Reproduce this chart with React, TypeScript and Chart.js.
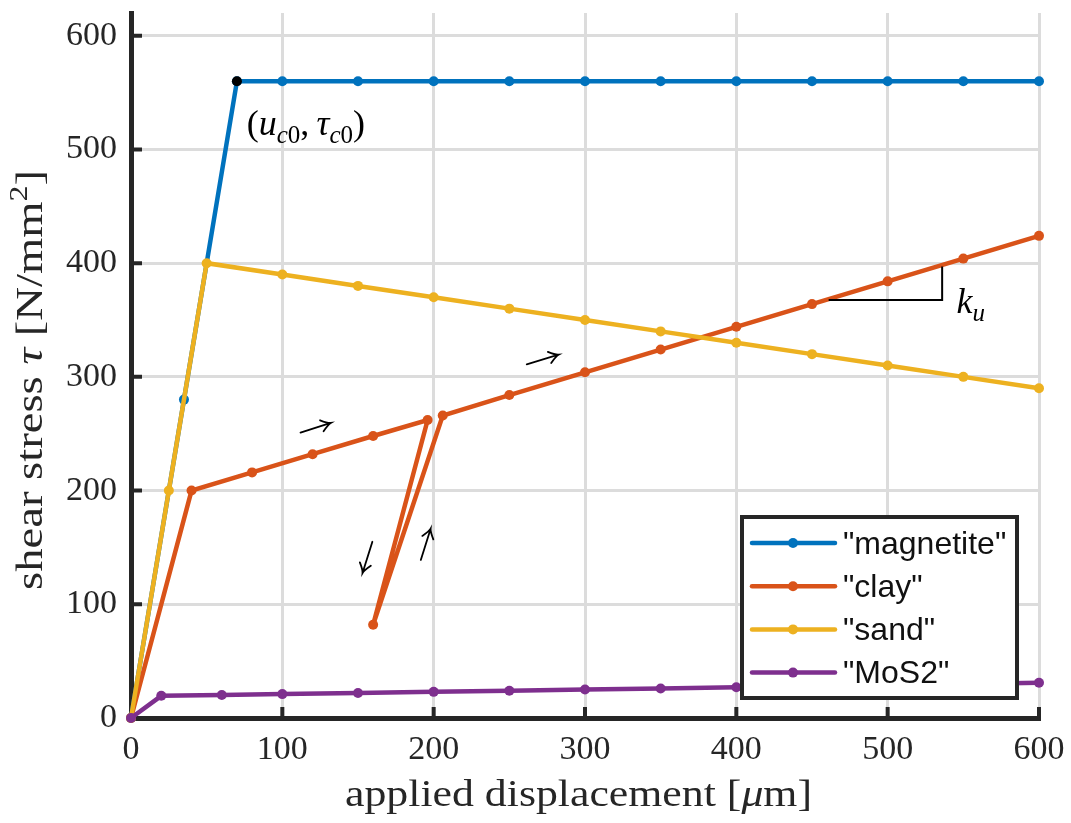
import React, { useEffect, useRef } from 'react';
import { Chart, registerables } from 'chart.js';

Chart.register(...registerables);

// ---------- data ----------
const xTickValues = [0, 100, 200, 300, 400, 500, 600];
const yTickValues = [0, 100, 200, 300, 400, 500, 600];

const seriesNames = ['"magnetite"', '"clay"', '"sand"', '"MoS2"'];
const seriesColors = ['#0072BD', '#D95319', '#EDB120', '#7E2F8E'];

const magnetiteX = [0, 35, 70, 100, 150, 200, 250, 300, 350, 400, 450, 500, 550, 600];
const magnetiteY = [0, 280, 560, 560, 560, 560, 560, 560, 560, 560, 560, 560, 560, 560];

const clayX = [0, 40, 80, 120, 160, 196, 160, 206, 250, 300, 350, 400, 450, 500, 550, 600];
const clayY = [0, 200, 216, 232, 248, 262, 82, 266, 284, 304, 324, 344, 364, 384, 404, 424];

const sandX = [0, 25, 50, 100, 150, 200, 250, 300, 350, 400, 450, 500, 550, 600];
const sandY = [0, 200, 400, 390, 380, 370, 360, 350, 340, 330, 320, 310, 300, 290];

const mos2X = [0, 20, 60, 100, 150, 200, 250, 300, 350, 400, 450, 500, 550, 600];
const mos2Y = [0, 19.5, 20.2, 21, 22, 23, 24, 25, 26, 27, 28, 29, 30, 31];

const criticalX = [70];
const criticalY = [560];

// annotation anchors (data coordinates)
const slopeTriangle = [[461, 367.5], [536, 367.5], [536, 397]];
const arrows = [
  [112.0, 251.0, 132.0, 259.5],
  [261.5, 311.0, 282.5, 319.5],
  [159.5, 155.0, 153.0, 127.5],
  [191.5, 139.0, 198.0, 166.5],
];
const criticalLabelAt = [76.5, 513];
const slopeLabelAt = [545.5, 356];

const xTitle = 'applied displacement';
const yTitle = 'shear stress';

const toXY = (xs: number[], ys: number[]) => xs.map((x, i) => ({ x, y: ys[i] }));

const SERIF = '"Liberation Serif", "Times New Roman", serif';
const SANS = '"Liberation Sans", Arial, sans-serif';
const AXIS = '#262626';

type Run = { t: string; f: string; dy?: number };

function runsWidth(ctx: CanvasRenderingContext2D, runs: Run[]) {
  let w = 0;
  for (const r of runs) {
    ctx.font = r.f;
    w += ctx.measureText(r.t).width;
  }
  return w;
}

function drawRuns(ctx: CanvasRenderingContext2D, runs: Run[], x: number, y: number) {
  let cx = x;
  for (const r of runs) {
    ctx.font = r.f;
    ctx.fillText(r.t, cx, y + (r.dy || 0));
    cx += ctx.measureText(r.t).width;
  }
}

function drawArrow(ctx: CanvasRenderingContext2D, x1: number, y1: number, x2: number, y2: number) {
  const ang = Math.atan2(y2 - y1, x2 - x1);
  const h = 11;
  ctx.beginPath();
  ctx.moveTo(x1, y1);
  ctx.lineTo(x2, y2);
  ctx.moveTo(x2 - h * Math.cos(ang - 0.55), y2 - h * Math.sin(ang - 0.55));
  ctx.quadraticCurveTo(x2 - 3 * Math.cos(ang - 0.2), y2 - 3 * Math.sin(ang - 0.2), x2, y2);
  ctx.quadraticCurveTo(x2 - 3 * Math.cos(ang + 0.2), y2 - 3 * Math.sin(ang + 0.2), x2 - h * Math.cos(ang + 0.55), y2 - h * Math.sin(ang + 0.55));
  ctx.stroke();
}

const decorPlugin = {
  id: 'decor',
  beforeDatasetsDraw(chart: any) {
    const { ctx, chartArea: a, scales } = chart;
    ctx.save();
    ctx.strokeStyle = AXIS;
    ctx.lineWidth = 4;
    ctx.beginPath();
    for (const v of yTickValues) {
      if (v === 0) continue;
      const py = scales.y.getPixelForValue(v);
      ctx.moveTo(a.left, py);
      ctx.lineTo(a.left + 11, py);
    }
    for (const v of xTickValues) {
      if (v === 0) continue;
      const px = scales.x.getPixelForValue(v);
      ctx.moveTo(px, a.bottom);
      ctx.lineTo(px, a.bottom - 11);
    }
    ctx.stroke();
    ctx.restore();
  },
  afterDatasetsDraw(chart: any) {
    const { ctx, chartArea: a, scales } = chart;
    const X = (v: number) => scales.x.getPixelForValue(v);
    const Y = (v: number) => scales.y.getPixelForValue(v);
    ctx.save();
    ctx.fillStyle = '#000';
    ctx.strokeStyle = '#000';
    ctx.textBaseline = 'alphabetic';
    ctx.textAlign = 'left';

    // slope triangle
    ctx.lineWidth = 2;
    ctx.beginPath();
    slopeTriangle.forEach(([x, y], i) => (i === 0 ? ctx.moveTo(X(x), Y(y)) : ctx.lineTo(X(x), Y(y))));
    ctx.stroke();

    // arrows
    ctx.lineWidth = 1.8;
    ctx.lineCap = 'round';
    for (const [x1, y1, x2, y2] of arrows) drawArrow(ctx, X(x1), Y(y1), X(x2), Y(y2));

    // critical point label
    const big = `36px ${SERIF}`;
    const bigI = `italic 36px ${SERIF}`;
    const subI = `italic 25px ${SERIF}`;
    const sub = `25px ${SERIF}`;
    drawRuns(
      ctx,
      [
        { t: '(', f: big },
        { t: 'u', f: bigI },
        { t: 'c', f: subI, dy: 8 },
        { t: '0', f: sub, dy: 8 },
        { t: ',\u2009', f: big },
        { t: 'τ', f: bigI },
        { t: 'c', f: subI, dy: 8 },
        { t: '0', f: sub, dy: 8 },
        { t: ')', f: big },
      ],
      X(criticalLabelAt[0]),
      Y(criticalLabelAt[1])
    );
    // slope label
    drawRuns(
      ctx,
      [
        { t: 'k', f: bigI },
        { t: 'u', f: subI, dy: 8 },
      ],
      X(slopeLabelAt[0]),
      Y(slopeLabelAt[1])
    );

    // legend
    const bw = 275, bh = 181;
    const bx = a.right - 22 - bw;
    const by = a.bottom - 20 - bh;
    ctx.fillStyle = '#fff';
    ctx.fillRect(bx, by, bw, bh);
    ctx.lineWidth = 4;
    ctx.strokeStyle = AXIS;
    ctx.strokeRect(bx, by, bw, bh);
    ctx.font = `32px ${SANS}`;
    ctx.textBaseline = 'middle';
    seriesNames.forEach((name, i) => {
      const ry = by + 26 + i * 43.2;
      ctx.strokeStyle = seriesColors[i];
      ctx.lineWidth = 4.5;
      ctx.beginPath();
      ctx.moveTo(bx + 10, ry);
      ctx.lineTo(bx + 93, ry);
      ctx.stroke();
      ctx.fillStyle = seriesColors[i];
      ctx.beginPath();
      ctx.arc(bx + 51, ry, 5, 0, Math.PI * 2);
      ctx.fill();
      ctx.fillStyle = '#111';
      ctx.fillText(name, bx + 101, ry + 2);
    });
    ctx.restore();
  },
  afterDraw(chart: any) {
    const { ctx } = chart;
    ctx.save();
    ctx.fillStyle = '#262626';
    ctx.textBaseline = 'alphabetic';
    ctx.textAlign = 'left';
    const f = `38px ${SERIF}`;
    const fi = `italic 38px ${SERIF}`;
    const fs = `26px ${SERIF}`;

    // x title
    const xr: Run[] = [
      { t: xTitle + ' [', f },
      { t: 'μ', f: fi },
      { t: 'm]', f },
    ];
    const xw = runsWidth(ctx, xr);
    ctx.save();
    ctx.translate(345, 806);
    ctx.scale(467 / xw, 1);
    drawRuns(ctx, xr, 0, 0);
    ctx.restore();

    // y title
    const yr: Run[] = [
      { t: yTitle + ' ', f },
      { t: 'τ', f: fi },
      { t: ' [N/mm', f },
      { t: '2', f: fs, dy: -15 },
      { t: ']', f },
    ];
    const yw = runsWidth(ctx, yr);
    ctx.save();
    ctx.translate(42, 590);
    ctx.rotate(-Math.PI / 2);
    ctx.scale(420 / yw, 1);
    drawRuns(ctx, yr, 0, 0);
    ctx.restore();
    ctx.restore();
  },
};

export default function App() {
  const canvasRef = useRef<HTMLCanvasElement | null>(null);

  useEffect(() => {
    const canvas = canvasRef.current;
    if (!canvas) return;
    const mk = (i: number, xs: number[], ys: number[], order: number) => ({
      label: seriesNames[i],
      data: toXY(xs, ys),
      borderColor: seriesColors[i],
      backgroundColor: seriesColors[i],
      pointBackgroundColor: seriesColors[i],
      pointBorderWidth: 0,
      pointRadius: 5,
      borderWidth: 4.5,
      showLine: true,
      tension: 0,
      clip: false as any,
      order,
    });
    const chart = new Chart(canvas, {
      type: 'scatter',
      data: {
        datasets: [
          mk(0, magnetiteX, magnetiteY, 4),
          mk(1, clayX, clayY, 3),
          mk(2, sandX, sandY, 2),
          mk(3, mos2X, mos2Y, 1),
          {
            label: 'critical point',
            data: toXY(criticalX, criticalY),
            pointBackgroundColor: '#000',
            backgroundColor: '#000',
            borderColor: '#000',
            pointBorderWidth: 0,
            pointRadius: 5,
            showLine: false,
            clip: false as any,
            order: 0,
          },
        ] as any,
      },
      options: {
        animation: false,
        responsive: false,
        devicePixelRatio: 1,
        events: [],
        layout: { padding: { top: 13, right: 32, left: 0, bottom: 0 } },
        plugins: {
          legend: { display: false },
          tooltip: { enabled: false },
          title: { display: false },
        },
        scales: {
          x: {
            type: 'linear',
            min: 0,
            max: 600,
            afterBuildTicks: (s: any) => {
              s.ticks = xTickValues.map((v) => ({ value: v }));
            },
            afterFit: (s: any) => {
              s.height = 105;
              s.paddingLeft = 0;
              s.paddingRight = 0;
            },
            grid: { color: '#dcdcdc', lineWidth: 3, drawTicks: false },
            border: { display: true, color: AXIS, width: 5 },
            ticks: {
              padding: 12,
              color: '#262626',
              font: { family: SERIF, size: 34 },
              maxRotation: 0,
              autoSkip: false,
            },
          },
          y: {
            type: 'linear',
            min: 0,
            max: 620,
            afterBuildTicks: (s: any) => {
              s.ticks = yTickValues.map((v) => ({ value: v }));
            },
            afterFit: (s: any) => {
              s.width = 131;
              s.paddingTop = 0;
              s.paddingBottom = 0;
            },
            grid: { color: '#dcdcdc', lineWidth: 3, drawTicks: false },
            border: { display: true, color: AXIS, width: 5 },
            ticks: {
              padding: 14,
              color: '#262626',
              font: { family: SERIF, size: 34 },
              autoSkip: false,
            },
          },
        },
      },
      plugins: [decorPlugin],
    });
    return () => chart.destroy();
  }, []);

  return (
    <div style={{ position: 'absolute', left: 0, top: 0, width: 1071, height: 823, background: '#fff' }}>
      <canvas ref={canvasRef} width={1071} height={823} style={{ display: 'block', width: 1071, height: 823 }} />
    </div>
  );
}
